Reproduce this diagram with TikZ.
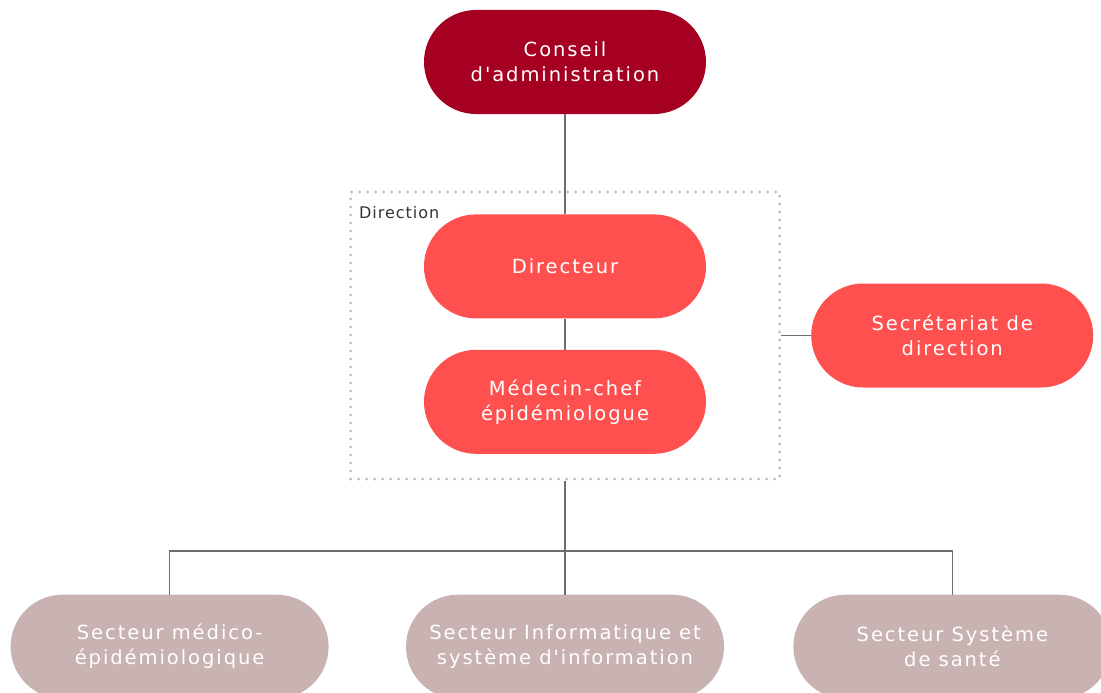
\documentclass[tikz,border=0pt]{standalone}
\usepackage{fontspec}
\setmainfont{DejaVu Sans}
\newfontfamily\orgfont[LetterSpace=10]{DejaVu Sans}
\newfontfamily\tagfont[LetterSpace=6]{DejaVu Sans}
\usetikzlibrary{positioning}
\definecolor{boardred}{HTML}{A50021}
\definecolor{headred}{HTML}{FF5050}
\definecolor{sectorgray}{HTML}{C8B2B2}
\definecolor{framegray}{HTML}{C8B0B8}
\definecolor{wiregray}{HTML}{6E6E6E}
\begin{document}
\begin{tikzpicture}[
  x=1pt, y=-1pt,
  unit/.style={rectangle, rounded corners=52pt, fill=headred, minimum width=282pt, minimum height=104pt, inner sep=0pt, text=white, align=center, font=\orgfont\fontsize{19.5}{25}\selectfont},
  sector/.style={unit, fill=sectorgray, minimum width=318pt},
  link/.style={draw=wiregray, line width=1.6pt},
  frame/.style={rectangle, draw=framegray, line width=3pt, line cap=round, dash pattern=on 0pt off 8pt, minimum width=429pt, minimum height=287pt}
]
\useasboundingbox (0,0) rectangle (1101,693);
\clip (0,0) rectangle (1101,693);

\node[unit, fill=boardred] (conseil) at (565,62) {Conseil\\d'administration};
\node[frame] (direction) at (565,335.5) {};
\node[anchor=west, inner sep=0pt, text=black!80, font=\tagfont\fontsize{16}{18}\selectfont] (tag) at ([xshift=10pt,yshift=-22pt]direction.north west) {Direction};
\node[unit, below=100pt of conseil] (directeur) {Directeur};
\node[unit, below=31pt of directeur] (medecin) {Médecin-chef\\épidémiologue};
\node[unit, right=30pt of direction] (secretariat) {Secrétariat de\\direction};

\node[sector, below=114pt of direction] (informatique) {Secteur Informatique et\\système d'information};
\node[sector, left=77pt of informatique] (medico) {Secteur médico-\\épidémiologique};
\node[sector, right=69pt of informatique] (sante) {Secteur Système\\de santé};

\draw[link] (conseil) -- (directeur);
\draw[link] (directeur) -- (medecin);
\draw[link] (direction) -- (secretariat);
\draw[link] (direction) -- (informatique);
\draw[link] (medico) |- ([yshift=43.5pt]informatique.north) -| (sante);
\end{tikzpicture}
\end{document}
